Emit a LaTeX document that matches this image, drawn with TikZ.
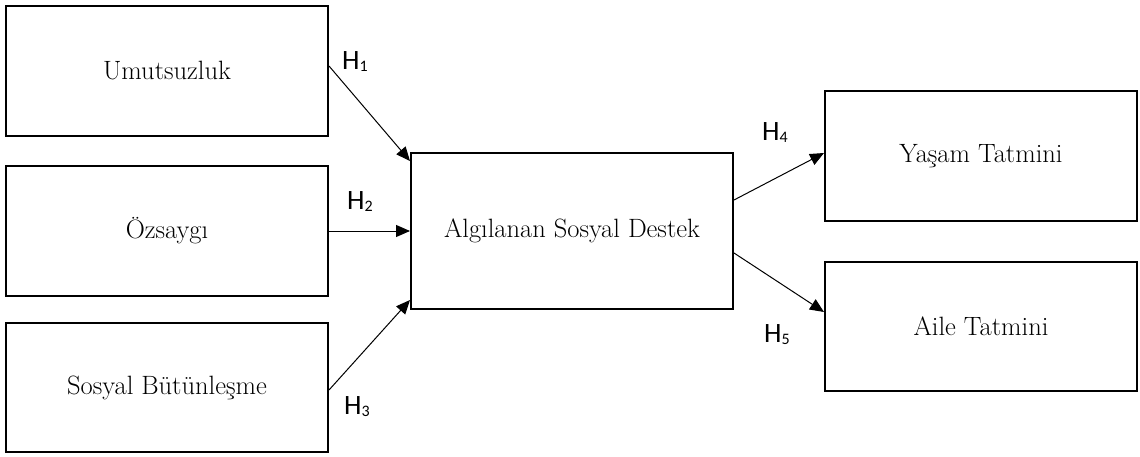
\documentclass[tikz,border=0pt]{standalone}
\usepackage{fontspec}
\newfontfamily\labfont{Carlito}
\usetikzlibrary{arrows.meta}
\tikzset{
  box/.style={draw=black, line width=2pt, fill=white, inner sep=0pt,
    font=\fontsize{26.5}{30}\selectfont},
  conn/.style={draw=black, line width=1pt, -{Triangle[length=14pt,width=12pt]}},
  hlab/.style={inner sep=0pt, font=\labfont\fontsize{28}{32}\selectfont}
}
\newcommand{\hyp}[1]{H\raisebox{-2pt}{\fontsize{16}{18}\selectfont #1}}
\begin{document}
\begin{tikzpicture}[x=1pt,y=-1pt]
\useasboundingbox (0,0) rectangle (1140,457);
\node[box, minimum width=322pt, minimum height=130pt] (b1) at (167,71) {Umutsuzluk};
\node[box, minimum width=322pt, minimum height=130pt] (b2) at (167,231) {Özsaygı};
\node[box, minimum width=322pt, minimum height=129pt] (b3) at (167,387.5) {Sosyal Bütünleşme};
\node[box, minimum width=322pt, minimum height=156pt] (c) at (572,231) {Algılanan Sosyal Destek};
\node[box, minimum width=312pt, minimum height=130pt] (y1) at (981,156) {Yaşam Tatmini};
\node[box, minimum width=312pt, minimum height=129pt] (y2) at (981,326.5) {Aile Tatmini};
\draw[conn] ([yshift=5pt]b1.east) -- ([yshift=-9pt]c.north west);
\draw[conn] (b2.east) -- (c.west);
\draw[conn] ([yshift=-2.5pt]b3.east) -- ([yshift=10pt]c.south west);
\draw[conn] ([yshift=31pt]c.east) -- ([yshift=3pt]y1.west);
\draw[conn] ([yshift=-22pt]c.east) -- ([yshift=14.5pt]y2.west);
\node[hlab] (h1) at (355,62) {\hyp{1}};
\node[hlab] (h2) at (360,202) {\hyp{2}};
\node[hlab] (h3) at (357,407) {\hyp{3}};
\node[hlab] (h4) at (775,133) {\hyp{4}};
\node[hlab] (h5) at (777,335) {\hyp{5}};
\end{tikzpicture}
\end{document}
